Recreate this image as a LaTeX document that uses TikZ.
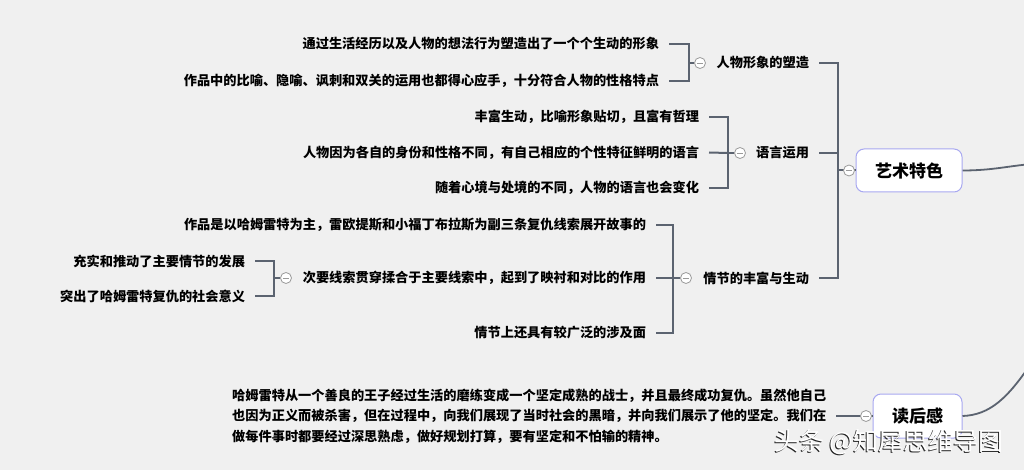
\documentclass[tikz,border=0pt]{standalone}
\usepackage{fontspec}
\setmainfont{Noto Sans CJK SC}
\newfontfamily\cjk{Noto Sans CJK SC}
\definecolor{bg}{HTML}{F0F0F0}
\definecolor{ln}{HTML}{5B6370}
\definecolor{bx}{HTML}{A8A8F0}
\definecolor{cc}{HTML}{9A9A9A}
\begin{document}
\begin{tikzpicture}[x=1pt,y=-1pt,
  leaf/.style={font=\cjk\bfseries\fontsize{13.2}{16}\selectfont, inner xsep=5pt, outer xsep=5pt, inner ysep=2pt, anchor=east, text=black},
  para/.style={font=\cjk\bfseries\fontsize{13.2}{20.5}\selectfont, inner sep=0pt, align=left, anchor=west, text=black},
  topic/.style={draw=bx, fill=white, rounded corners=8pt, line width=1pt, inner sep=0pt, font=\cjk\bfseries\fontsize{17}{20}\selectfont, text=black},
  conn/.style={draw=ln, line width=2pt},
  curve/.style={draw=ln, line width=1.8pt},
  knob/.style={circle, draw=cc, fill=white, minimum size=11pt, inner sep=0pt, line width=0.8pt,
    path picture={\draw[cc, line width=0.8pt] ([xshift=-3.2pt]path picture bounding box.center) -- ([xshift=3.2pt]path picture bounding box.center);}},
  wmark/.style={font=\cjk\fontsize{25}{25}\selectfont, inner sep=0pt}
]
\useasboundingbox (0,0) rectangle (1024,470);
\clip (0,0) rectangle (1024,470);
\fill[bg] (0,0) rectangle (1024,470);

% topics
\node[topic, minimum width=106pt, minimum height=43pt] (art) at (909,170.5) {艺术特色};
\node[topic, minimum width=89pt, minimum height=44pt] (rh) at (917.5,416) {读后感};

% branch 1
\node[leaf] (b1) at (819,63) {人物形象的塑造};
\node[leaf] (l11) at (669,44) {通过生活经历以及人物的想法行为塑造出了一个个生动的形象};
\node[leaf] (l12) at (669,81) {作品中的比喻、隐喻、讽刺和双关的运用也都得心应手，十分符合人物的性格特点};
\coordinate (j1) at (689,63);

% branch 2
\node[leaf] (b2) at (819,153) {语言运用};
\node[leaf] (l21) at (709,117) {丰富生动，比喻形象贴切，且富有哲理};
\node[leaf] (l22) at (709,152.5) {人物因为各自的身份和性格不同，有自己相应的个性特征鲜明的语言};
\node[leaf] (l23) at (709,188) {随着心境与处境的不同，人物的语言也会变化};
\coordinate (j2) at (728,153);

% branch 3
\node[leaf] (b3) at (819,278) {情节的丰富与生动};
\node[leaf] (l31) at (656,225) {作品是以哈姆雷特为主，雷欧提斯和小福丁布拉斯为副三条复仇线索展开故事的};
\node[leaf] (l32) at (656,278) {次要线索贯穿揉合于主要线索中，起到了映衬和对比的作用};
\node[leaf] (l33) at (656,333) {情节上还具有较广泛的涉及面};
\coordinate (j3) at (673,278);

% branch 3.2 children
\node[leaf] (l41) at (255,261) {充实和推动了主要情节的发展};
\node[leaf] (l42) at (255,296) {突出了哈姆雷特复仇的社会意义};
\coordinate (j4) at (274,278);

% main junction
\coordinate (jm) at (838,170.5);

% paragraph
\node[para] (p) at (232,416) {哈姆雷特从一个善良的王子经过生活的磨练变成一个坚定成熟的战士，并且最终成功复仇。虽然他自己\\也因为正义而被杀害，但在过程中，向我们展现了当时社会的黑暗，并向我们展示了他的坚定。我们在\\做每件事时都要经过深思熟虑，做好规划打算，要有坚定和不怕输的精神。};

% connectors
\draw[conn] (l11.east) -| (j1) |- (l12.east);
\draw[conn] (l21.east) -| (j2) |- (l23.east);
\draw[conn] (l22.east) -- (j2);
\draw[conn] (l31.east) -| (j3) |- (l33.east);
\draw[conn] (l32.east) -- (j3);
\draw[conn] (l41.east) -| (j4) |- (l42.east);
\draw[conn] (b1.east) -| (jm);
\draw[conn] (b3.east) -| (jm);
\draw[conn] (b2.east) -| (jm);
\coordinate (pe) at (836,416);
\draw[conn] (pe) -- (rh.west);
\draw[conn] (jm) -- (art.west);

% knobs
\node[knob] (k1) at (700,63) {};
\node[knob] (k2) at (740,153) {};
\node[knob] (k3) at (686,278) {};
\node[knob] (k4) at (286,278) {};
\node[knob] (kart) at (849,170.5) {};
\node[knob] (k5) at (866,416) {};
\draw[conn] (j1) -- (k1.west);
\draw[conn] (j2) -- (k2.west);
\draw[conn] (j3) -- (k3.west);
\draw[conn] (j4) -- (k4.west);

% curves to the right
\coordinate (r1) at (1032,164);
\coordinate (r2) at (1032,362);
\draw[curve] (art.east) .. controls (992,170.5) and (1008,166) .. (r1);
\draw[curve] (rh.east) .. controls (990,415) and (1008,398) .. (r2);

% watermark
\node[wmark, text=black!85] (wms) at ([xshift=-1.2pt,yshift=-1.2pt]889,442) {头条 @知犀思维导图};
\node[wmark, text=white] (wm) at (889,442) {头条 @知犀思维导图};
\end{tikzpicture}
\end{document}
